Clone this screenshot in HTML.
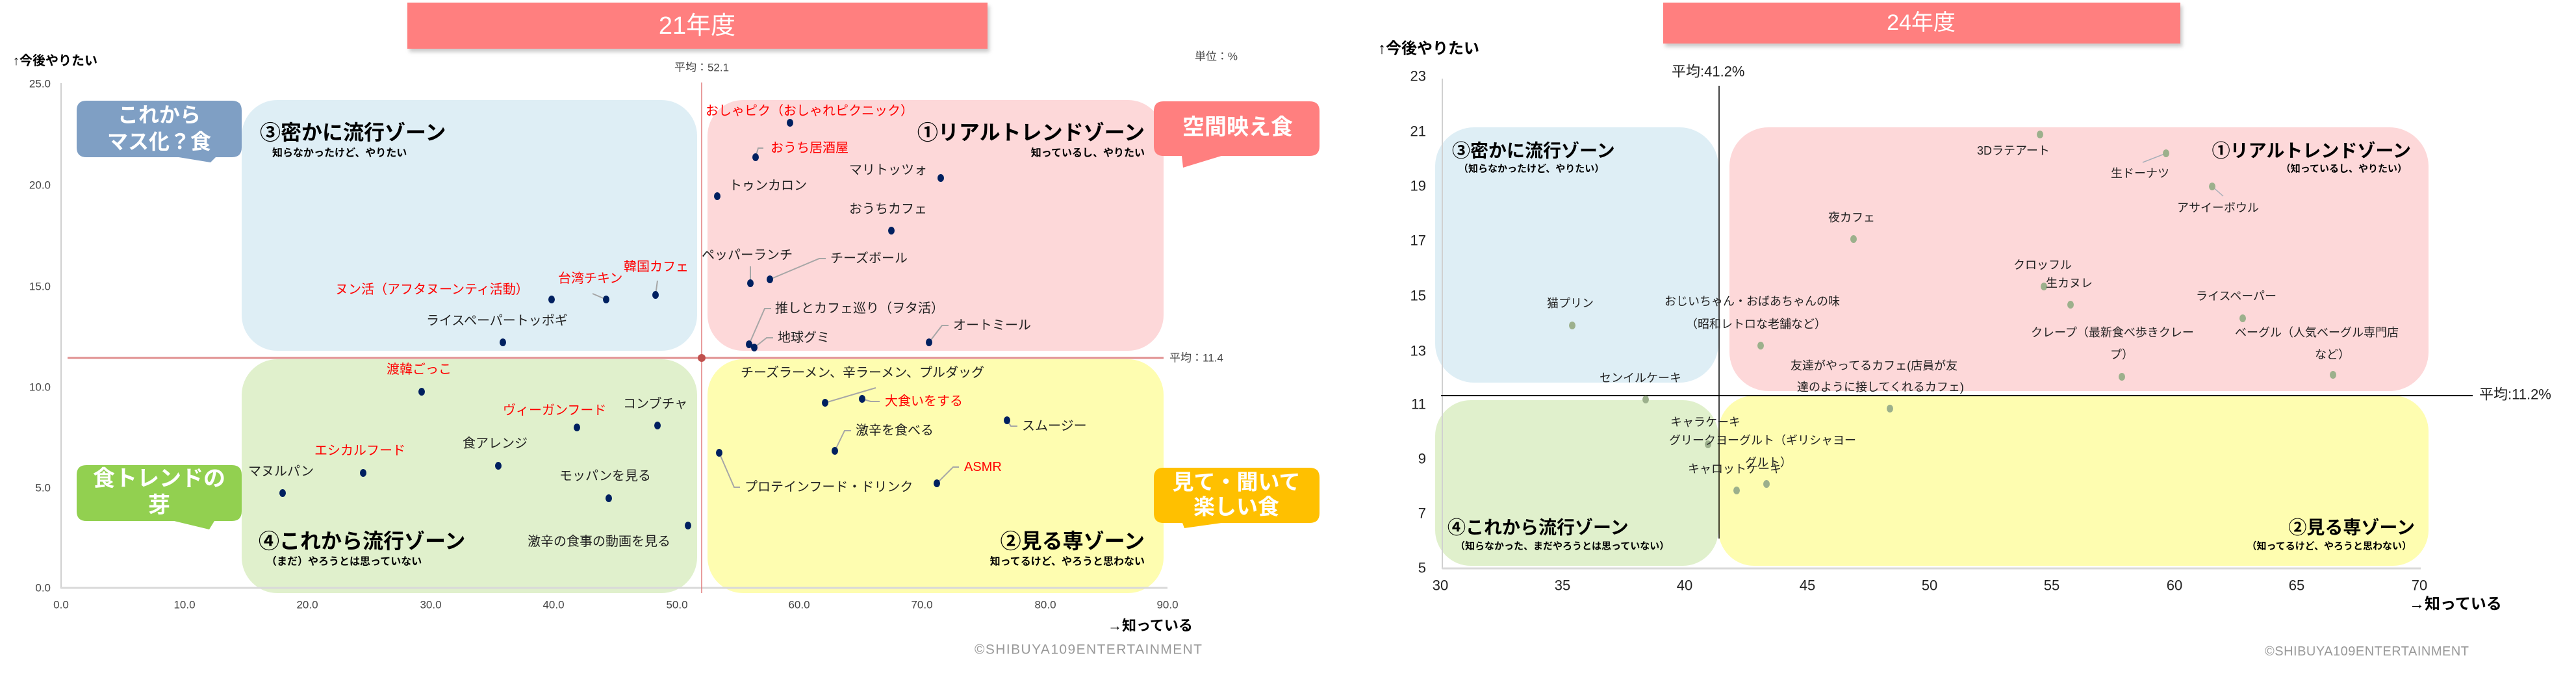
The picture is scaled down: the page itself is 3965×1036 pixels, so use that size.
<!DOCTYPE html>
<html><head><meta charset="utf-8">
<style>
html,body{margin:0;padding:0;background:#fff;}
svg{display:block;font-family:"Liberation Sans","Noto Sans CJK JP",sans-serif;}
.l{font-size:20px;fill:#222;dominant-baseline:central;}
.r{font-size:20px;fill:#ff0000;dominant-baseline:central;}
.s{font-size:18px;fill:#222;dominant-baseline:central;}
.ax{font-size:17px;fill:#444;dominant-baseline:central;}
.ax2{font-size:22px;fill:#222;dominant-baseline:central;}
.zt{font-weight:bold;fill:#000;dominant-baseline:central;}
.cw{fill:#fff;font-weight:bold;dominant-baseline:central;text-anchor:middle;}
</style></head><body>
<svg width="3965" height="1036" viewBox="0 0 3965 1036" xmlns="http://www.w3.org/2000/svg">
<defs><filter id="sh" x="-5%" y="-20%" width="110%" height="160%"><feGaussianBlur stdDeviation="3"/></filter></defs>
<rect width="3965" height="1036" fill="#fff"/>

<!-- ============ LEFT CHART ============ -->
<rect x="630" y="9" width="893" height="71" fill="#999" opacity="0.5" filter="url(#sh)"/>
<rect x="627" y="4" width="893" height="71" fill="#ff7f7f"/>
<text x="1073" y="40" class="cw" style="font-size:38px;font-weight:normal">21年度</text>

<text x="20" y="94" style="font-size:20px;dominant-baseline:central;font-weight:bold">↑今後やりたい</text>
<text x="1080" y="104" class="ax" text-anchor="middle">平均：52.1</text>
<text x="1872" y="87" class="ax" text-anchor="middle">単位：%</text>

<!-- zones -->
<rect x="372" y="154" width="701" height="386" rx="55" fill="#deeef5"/>
<rect x="1089" y="154" width="702" height="386" rx="55" fill="#fdd8d9"/>
<rect x="372" y="553" width="701" height="360" rx="55" fill="#e0f0cc"/>
<rect x="1089" y="553" width="702" height="360" rx="55" fill="#fefdb0"/>

<!-- axes -->
<line x1="94" y1="128" x2="94" y2="906" stroke="#bfbfbf" stroke-width="1.5"/>
<line x1="94" y1="905" x2="1797" y2="905" stroke="#d9d9d9" stroke-width="3"/>
<g class="ax" text-anchor="end">
<text x="78" y="129">25.0</text><text x="78" y="285">20.0</text><text x="78" y="441">15.0</text>
<text x="78" y="596">10.0</text><text x="78" y="751">5.0</text><text x="78" y="905">0.0</text>
</g>
<g class="ax" text-anchor="middle">
<text x="94" y="931">0.0</text><text x="284" y="931">10.0</text><text x="473" y="931">20.0</text>
<text x="663" y="931">30.0</text><text x="852" y="931">40.0</text><text x="1042" y="931">50.0</text>
<text x="1230" y="931">60.0</text><text x="1419" y="931">70.0</text><text x="1609" y="931">80.0</text><text x="1797" y="931">90.0</text>
</g>
<!-- mean lines -->
<line x1="1080" y1="127" x2="1080" y2="913" stroke="#e07b7b" stroke-width="1.5"/>
<line x1="104" y1="551" x2="1791" y2="551" stroke="#e09090" stroke-width="3"/>
<circle cx="1080" cy="551" r="6" fill="#c0504d"/>
<text x="1800" y="551" class="ax">平均：11.4</text>

<!-- callouts -->
<path d="M118 170 Q118 155 133 155 H357 Q372 155 372 170 V227 Q372 242 357 242 H332 L324 250 L275 242 H133 Q118 242 118 227Z" fill="#7f9fc4"/>
<text x="245" y="177" class="cw" style="font-size:32px">これから</text>
<text x="245" y="218" class="cw" style="font-size:32px">マス化？食</text>
<path d="M1791 156 H2016 Q2031 156 2031 171 V225 Q2031 240 2016 240 H1880 L1821 258 L1819 240 H1791 Q1776 240 1776 225 V171 Q1776 156 1791 156Z" fill="#ff7f7f"/>
<text x="1905" y="196" class="cw" style="font-size:34px">空間映え食</text>
<path d="M133 716 H357 Q372 716 372 731 V787 Q372 802 357 802 H330 L322 815 L268 802 H133 Q118 802 118 787 V731 Q118 716 133 716Z" fill="#92d050"/>
<text x="245" y="737" class="cw" style="font-size:34px">食トレンドの</text>
<text x="245" y="778" class="cw" style="font-size:34px">芽</text>
<path d="M1791 720 H2016 Q2031 720 2031 735 V790 Q2031 805 2016 805 H1880 L1823 813 L1820 805 H1791 Q1776 805 1776 790 V735 Q1776 720 1791 720Z" fill="#ffc000"/>
<text x="1903" y="742" class="cw" style="font-size:33px">見て・聞いて</text>
<text x="1903" y="780" class="cw" style="font-size:33px">楽しい食</text>

<!-- zone titles -->
<text x="400" y="204" class="zt" style="font-size:32px">③密かに流行ゾーン</text>
<text x="419" y="236" class="zt" style="font-size:16px">知らなかったけど、やりたい</text>
<text x="1762" y="204" class="zt" style="font-size:32px" text-anchor="end">①リアルトレンドゾーン</text>
<text x="1762" y="236" class="zt" style="font-size:16px" text-anchor="end">知っているし、やりたい</text>
<text x="398" y="833" class="zt" style="font-size:32px">④これから流行ゾーン</text>
<text x="410" y="865" class="zt" style="font-size:16px">（まだ）やろうとは思っていない</text>
<text x="1762" y="833" class="zt" style="font-size:32px" text-anchor="end">②見る専ゾーン</text>
<text x="1762" y="865" class="zt" style="font-size:16px" text-anchor="end">知ってるけど、やろうと思わない</text>

<!-- leader lines -->
<g stroke="#a6a6a6" stroke-width="2" fill="none">
<polyline points="912,452 933,461"/>
<polyline points="1012,432 1009,454"/>
<polyline points="1175,228 1167,228 1163,242"/>
<polyline points="1155,410 1155,436"/>
<polyline points="1271,398 1261,398 1185,430"/>
<polyline points="1187,475 1177,475 1153,530"/>
<polyline points="1190,520 1180,520 1161,535"/>
<polyline points="1460,501 1450,501 1430,527"/>
<polyline points="1348,597 1270,620"/>
<polyline points="1354,618 1340,618 1327,614"/>
<polyline points="1566,656 1556,656 1550,647"/>
<polyline points="1310,663 1300,663 1285,694"/>
<polyline points="1139,750 1130,750 1107,697"/>
<polyline points="1476,719 1467,719 1442,744"/>
</g>

<!-- points left -->
<g fill="#002060">
<ellipse cx="849" cy="461" rx="5" ry="6"/><ellipse cx="933" cy="461" rx="5" ry="6"/>
<ellipse cx="1009" cy="454" rx="5" ry="6"/><ellipse cx="774" cy="527" rx="5" ry="6"/>
<ellipse cx="1216" cy="189" rx="5" ry="6"/><ellipse cx="1163" cy="242" rx="5" ry="6"/>
<ellipse cx="1448" cy="274" rx="5" ry="6"/><ellipse cx="1104" cy="302" rx="5" ry="6"/>
<ellipse cx="1372" cy="355" rx="5" ry="6"/><ellipse cx="1155" cy="436" rx="5" ry="6"/>
<ellipse cx="1185" cy="430" rx="5" ry="6"/><ellipse cx="1153" cy="530" rx="5" ry="6"/>
<ellipse cx="1161" cy="535" rx="5" ry="6"/><ellipse cx="1430" cy="527" rx="5" ry="6"/>
<ellipse cx="649" cy="603" rx="5" ry="6"/><ellipse cx="888" cy="658" rx="5" ry="6"/>
<ellipse cx="1012" cy="655" rx="5" ry="6"/><ellipse cx="767" cy="717" rx="5" ry="6"/>
<ellipse cx="559" cy="728" rx="5" ry="6"/><ellipse cx="435" cy="759" rx="5" ry="6"/>
<ellipse cx="937" cy="767" rx="5" ry="6"/><ellipse cx="1059" cy="809" rx="5" ry="6"/>
<ellipse cx="1270" cy="620" rx="5" ry="6"/><ellipse cx="1327" cy="614" rx="5" ry="6"/>
<ellipse cx="1550" cy="647" rx="5" ry="6"/><ellipse cx="1285" cy="694" rx="5" ry="6"/>
<ellipse cx="1107" cy="697" rx="5" ry="6"/><ellipse cx="1442" cy="744" rx="5" ry="6"/>
</g>

<!-- labels left -->
<text x="516" y="446" class="r">ヌン活（アフタヌーンティ活動）</text>
<text x="859" y="429" class="r">台湾チキン</text>
<text x="960" y="411" class="r">韓国カフェ</text>
<text x="656" y="494" class="l">ライスペーパートッポギ</text>
<text x="1086" y="171" class="r">おしゃピク（おしゃれピクニック）</text>
<text x="1186" y="228" class="r">おうち居酒屋</text>
<text x="1307" y="262" class="l">マリトッツォ</text>
<text x="1122" y="286" class="l">トゥンカロン</text>
<text x="1307" y="322" class="l">おうちカフェ</text>
<text x="1080" y="393" class="l">ペッパーランチ</text>
<text x="1278" y="398" class="l">チーズボール</text>
<text x="1193" y="475" class="l">推しとカフェ巡り（ヲタ活）</text>
<text x="1197" y="520" class="l">地球グミ</text>
<text x="1467" y="501" class="l">オートミール</text>
<text x="595" y="569" class="r">渡韓ごっこ</text>
<text x="774" y="632" class="r">ヴィーガンフード</text>
<text x="959" y="622" class="l">コンブチャ</text>
<text x="712" y="683" class="l">食アレンジ</text>
<text x="484" y="694" class="r">エシカルフード</text>
<text x="382" y="726" class="l">マヌルパン</text>
<text x="861" y="733" class="l">モッパンを見る</text>
<text x="812" y="834" class="l">激辛の食事の動画を見る</text>
<text x="1140" y="574" class="l">チーズラーメン、辛ラーメン、プルダッグ</text>
<text x="1362" y="618" class="r">大食いをする</text>
<text x="1573" y="656" class="l">スムージー</text>
<text x="1317" y="663" class="l">激辛を食べる</text>
<text x="1146" y="750" class="l">プロテインフード・ドリンク</text>
<text x="1484" y="719" class="r">ASMR</text>

<text x="1705" y="963" style="font-size:22px;font-weight:bold;dominant-baseline:central">→知っている</text>
<text x="1500" y="1000" style="font-size:21px;fill:#999;dominant-baseline:central" textLength="350">©SHIBUYA109ENTERTAINMENT</text>

<!-- ============ RIGHT CHART ============ -->
<rect x="2563" y="9" width="796" height="63" fill="#999" opacity="0.5" filter="url(#sh)"/>
<rect x="2560" y="4" width="796" height="63" fill="#ff7f7f"/>
<text x="2957" y="35" class="cw" style="font-size:34px;font-weight:normal">24年度</text>

<text x="2121" y="75" style="font-size:24px;font-weight:bold;dominant-baseline:central">↑今後やりたい</text>
<text x="2573" y="110" class="ax2">平均:41.2%</text>

<!-- zones -->
<rect x="2209" y="196" width="436" height="393" rx="60" fill="#deeef5"/>
<rect x="2662" y="196" width="1076" height="406" rx="60" fill="#fdd8d9"/>
<rect x="2209" y="616" width="436" height="255" rx="55" fill="#e0f0cc"/>
<rect x="2645" y="609" width="1093" height="262" rx="55" fill="#fefdb0"/>

<!-- axes -->
<line x1="2220" y1="121" x2="2220" y2="876" stroke="#d0d0d0" stroke-width="2"/>
<line x1="2220" y1="875" x2="3726" y2="875" stroke="#d9d9d9" stroke-width="3"/>
<g class="ax2" text-anchor="end">
<text x="2195" y="117">23</text><text x="2195" y="202">21</text><text x="2195" y="286">19</text>
<text x="2195" y="370">17</text><text x="2195" y="455">15</text><text x="2195" y="540">13</text>
<text x="2195" y="622">11</text><text x="2195" y="706">9</text><text x="2195" y="790">7</text><text x="2195" y="874">5</text>
</g>
<g class="ax2" text-anchor="middle">
<text x="2217" y="901">30</text><text x="2405" y="901">35</text><text x="2593" y="901">40</text>
<text x="2782" y="901">45</text><text x="2970" y="901">50</text><text x="3158" y="901">55</text>
<text x="3347" y="901">60</text><text x="3535" y="901">65</text><text x="3724" y="901">70</text>
</g>
<line x1="2646" y1="132" x2="2646" y2="829" stroke="#000" stroke-width="1.5"/>
<line x1="2218" y1="609" x2="3806" y2="609" stroke="#000" stroke-width="2"/>
<text x="3816" y="607" class="ax2">平均:11.2%</text>

<!-- zone titles -->
<text x="2235" y="232" class="zt" style="font-size:28px">③密かに流行ゾーン</text>
<text x="2245" y="260" class="zt" style="font-size:15px">（知らなかったけど、やりたい）</text>
<text x="3711" y="232" class="zt" style="font-size:28px" text-anchor="end">①リアルトレンドゾーン</text>
<text x="3705" y="260" class="zt" style="font-size:15px" text-anchor="end">（知っているし、やりたい）</text>
<text x="2228" y="812" class="zt" style="font-size:28px">④これから流行ゾーン</text>
<text x="2240" y="841" class="zt" style="font-size:15px">（知らなかった、まだやろうとは思っていない）</text>
<text x="3717" y="812" class="zt" style="font-size:28px" text-anchor="end">②見る専ゾーン</text>
<text x="3712" y="841" class="zt" style="font-size:15px" text-anchor="end">（知ってるけど、やろうと思わない）</text>

<g stroke="#a6aeb8" stroke-width="1.5" fill="none">
<line x1="3298" y1="250" x2="3334" y2="236"/>
<line x1="3422" y1="302" x2="3405" y2="287"/>
</g>

<!-- points right -->
<g fill="#9cb08c">
<ellipse cx="2853" cy="368" rx="5" ry="6"/><ellipse cx="2420" cy="501" rx="5" ry="6"/>
<ellipse cx="2710" cy="532" rx="5" ry="6"/><ellipse cx="3140" cy="207" rx="5" ry="6"/>
<ellipse cx="3334" cy="236" rx="5" ry="6"/><ellipse cx="3405" cy="287" rx="5" ry="6"/>
<ellipse cx="3146" cy="441" rx="5" ry="6"/><ellipse cx="3187" cy="469" rx="5" ry="6"/>
<ellipse cx="3452" cy="490" rx="5" ry="6"/><ellipse cx="3591" cy="577" rx="5" ry="6"/>
<ellipse cx="3266" cy="580" rx="5" ry="6"/>
<ellipse cx="2909" cy="629" rx="5" ry="6"/><ellipse cx="2533" cy="615" rx="5" ry="6"/>
<ellipse cx="2629" cy="684" rx="5" ry="6"/><ellipse cx="2673" cy="755" rx="5" ry="6"/>
<ellipse cx="2719" cy="745" rx="5" ry="6"/>
</g>

<!-- labels right -->
<text x="2814" y="335" class="s">夜カフェ</text>
<text x="2381" y="467" class="s">猫プリン</text>
<text x="2562" y="464" class="s">おじいちゃん・おばあちゃんの味</text>
<text x="2595" y="499" class="s">（昭和レトロな老舗など）</text>
<text x="3043" y="232" class="s">3Dラテアート</text>
<text x="3249" y="267" class="s">生ドーナツ</text>
<text x="3351" y="320" class="s">アサイーボウル</text>
<text x="3099" y="408" class="s">クロッフル</text>
<text x="3149" y="436" class="s">生カヌレ</text>
<text x="3380" y="456" class="s">ライスペーパー</text>
<text x="3126" y="512" class="s">クレープ（最新食べ歩きクレー</text>
<text x="3266" y="546" class="s" text-anchor="middle">プ）</text>
<text x="3440" y="512" class="s">ベーグル（人気ベーグル専門店</text>
<text x="3590" y="546" class="s" text-anchor="middle">など）</text>
<text x="2756" y="563" class="s">友達がやってるカフェ(店員が友</text>
<text x="2766" y="596" class="s">達のように接してくれるカフェ)</text>
<text x="2462" y="582" class="s">センイルケーキ</text>
<text x="2571" y="650" class="s">キャラケーキ</text>
<text x="2569" y="678" class="s">グリークヨーグルト（ギリシャヨー</text>
<text x="2686" y="712" class="s">グルト）</text>
<text x="2598" y="722" class="s">キャロットケーキ</text>

<text x="3708" y="930" style="font-size:24px;font-weight:bold;dominant-baseline:central">→知っている</text>
<text x="3486" y="1003" style="font-size:20px;fill:#999;dominant-baseline:central" textLength="314">©SHIBUYA109ENTERTAINMENT</text>
</svg>
</body></html>
